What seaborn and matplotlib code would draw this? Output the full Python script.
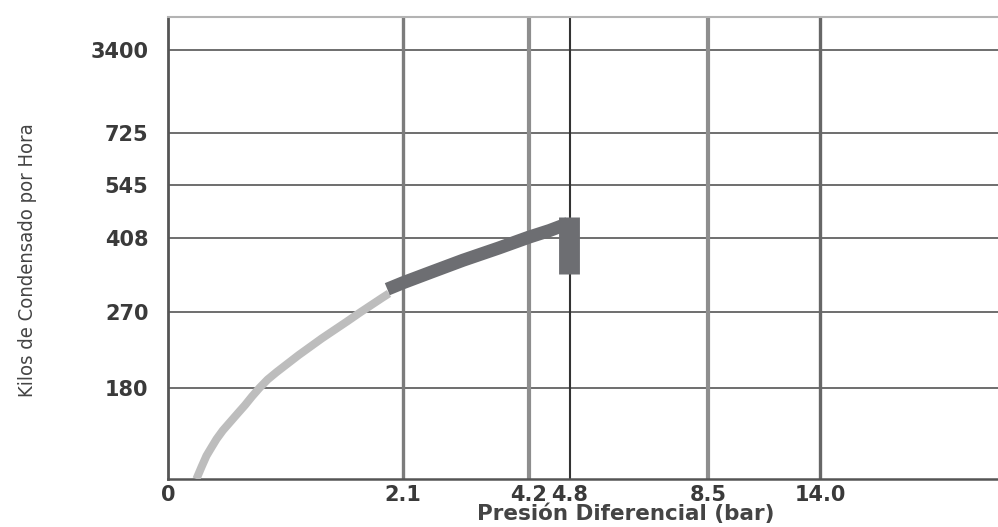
import numpy as np
import pandas as pd
import matplotlib
matplotlib.use("Agg")
import matplotlib.pyplot as plt
import seaborn as sns

# Tick values and labels
x_ticks = [0, 2.1, 4.2, 4.8, 8.5, 14.0]
x_tick_labels = ["0", "2.1", "4.2", "4.8", "8.5", "14.0"]
y_ticks = [180, 270, 408, 545, 725, 3400]
y_tick_labels = ["180", "270", "408", "545", "725", "3400"]

# Capacity curve: condensate (kg/h) vs differential pressure (bar)
low_pressure = [0.254, 0.300, 0.344, 0.390, 0.434, 0.490, 0.553, 0.620, 0.688,
                0.750, 0.817, 0.890, 0.972, 1.167, 1.376, 1.600, 1.720,
                1.915, 1.975]
low_capacity = [0, 24, 46, 63, 79, 96, 112, 129, 146, 163, 180, 190, 199,
                219, 239, 259, 270, 297, 305]
op_pressure = [1.96, 2.1, 2.55, 3.1, 3.7, 4.2, 4.5, 4.77]
op_capacity = [313, 325, 344, 367, 390, 411, 428, 446]
drop_pressure = [4.78, 4.78]
drop_capacity = [462, 341]

# Non-uniform chart axes: breakpoints and their relative position along each axis
x_break_vals = [0, 2.1, 4.2, 4.8, 8.5, 14.0, 22.7]
x_break_pos = [0, 0.2831, 0.4349, 0.4843, 0.6506, 0.7855, 1.0]
y_break_vals = [0, 180, 270, 408, 545, 725, 3400, 4460]
y_break_pos = [0, 0.197, 0.361, 0.521, 0.636, 0.749, 0.929, 1.0]


def piecewise(vals, pos):
    fwd = lambda v: np.interp(v, vals, pos, left=pos[0], right=pos[-1])
    inv = lambda p: np.interp(p, pos, vals, left=vals[0], right=vals[-1])
    return fwd, inv


sns.set_theme(style="white")
plt.rcParams["font.family"] = ["DejaVu Sans"]

W, H = 998, 527
fig = plt.figure(figsize=(W / 100, H / 100), dpi=100)
ax = fig.add_axes([168 / W, (H - 479) / H, 830 / W, 462 / H])

ax.set_xscale("function", functions=piecewise(x_break_vals, x_break_pos))
ax.set_yscale("function", functions=piecewise(y_break_vals, y_break_pos))
ax.set_xlim(x_break_vals[0], x_break_vals[-1])
ax.set_ylim(y_break_vals[0], y_break_vals[-1])

# Grid
for v in y_ticks:
    ax.axhline(v, color="#555555", lw=1.2, zorder=1)
vgrid_style = {
    2.1: ("#7c7c7c", 2.4),
    4.2: ("#8e8e8e", 3.0),
    4.8: ("#333333", 1.5),
    8.5: ("#8e8e8e", 3.0),
    14.0: ("#676767", 2.4),
}
for v, (c, lw) in vgrid_style.items():
    ax.axvline(v, color=c, lw=lw, zorder=1)

# Curves
low = pd.DataFrame({"p": low_pressure, "q": low_capacity})
op = pd.DataFrame({"p": op_pressure, "q": op_capacity})
drop = pd.DataFrame({"p": drop_pressure, "q": drop_capacity})
sns.lineplot(data=low, x="p", y="q", sort=False, estimator=None, ax=ax,
             color="#bdbdbd", lw=5.8, solid_capstyle="butt",
             solid_joinstyle="round", zorder=3)
sns.lineplot(data=op, x="p", y="q", sort=False, estimator=None, ax=ax,
             color="#6d6e72", lw=9.4, solid_capstyle="butt",
             solid_joinstyle="round", zorder=4)
sns.lineplot(data=drop, x="p", y="q", sort=False, estimator=None, ax=ax,
             color="#6d6e72", lw=15, solid_capstyle="butt", zorder=4)

# Spines
ax.spines["right"].set_visible(False)
ax.spines["top"].set_color("#b3b3b3")
ax.spines["top"].set_linewidth(1.5)
ax.spines["left"].set_color("#555555")
ax.spines["left"].set_linewidth(2.0)
ax.spines["bottom"].set_color("#555555")
ax.spines["bottom"].set_linewidth(1.8)

# Ticks
ax.set_xticks(x_ticks)
ax.set_xticklabels(x_tick_labels)
ax.set_yticks(y_ticks)
ax.set_yticklabels(y_tick_labels)
ax.minorticks_off()
ax.tick_params(axis="both", length=0, labelsize=15, labelcolor="#3a3a3a")
ax.tick_params(axis="x", pad=4)
ax.tick_params(axis="y", pad=14)
for t in ax.get_xticklabels() + ax.get_yticklabels():
    t.set_fontweight("bold")

ax.set_xlabel("Presión Diferencial (bar)", fontsize=15.5, fontweight="bold",
              color="#444444")
ax.xaxis.set_label_coords(0.552, -0.075)
ax.xaxis.label.set_va("center")
ax.set_ylabel("Kilos de Condensado por Hora", fontsize=14.5, color="#444444",
              family="DejaVu Sans", fontstretch="condensed")
ax.yaxis.set_label_coords(-0.169, 0.474)
ax.yaxis.label.set_va("center")

fig.savefig("out.png", dpi=100)
